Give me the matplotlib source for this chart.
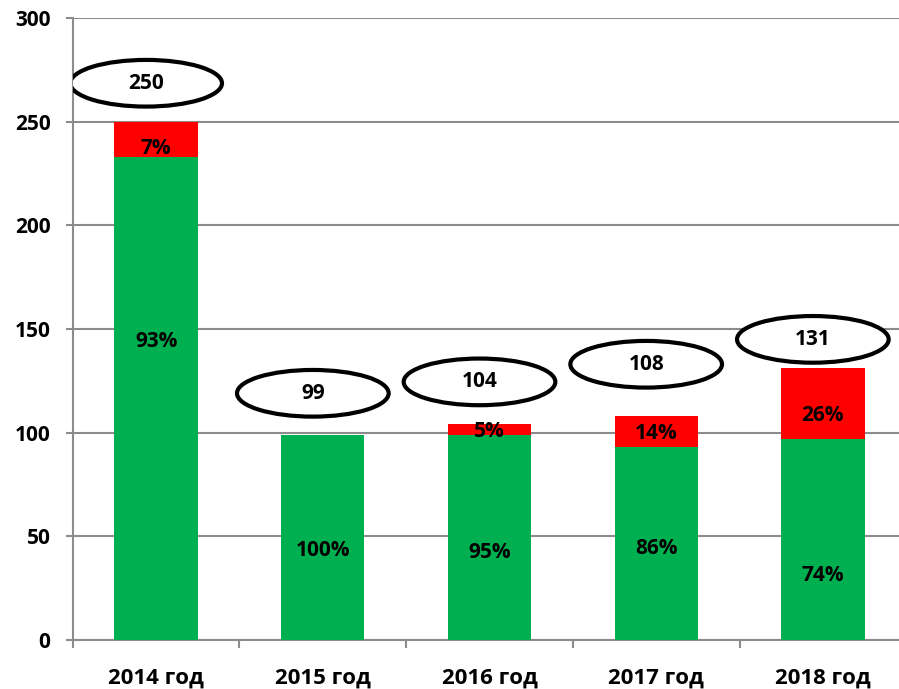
import matplotlib
matplotlib.use("Agg")
import matplotlib.pyplot as plt
from matplotlib.patches import Ellipse
import numpy as np

years = ["2014 год", "2015 год", "2016 год", "2017 год", "2018 год"]
green_vals = [233, 99, 99, 93, 97]
red_vals = [17, 0, 5, 15, 34]
totals = [250, 99, 104, 108, 131]
green_pct = ["93%", "100%", "95%", "86%", "74%"]
red_pct = ["7%", "", "5%", "14%", "26%"]

# label positions (data units)
green_label_y = [144, 43, 42, 44, 31]
red_label_y = [237, 0, 100.5, 99.5, 108.5]
ellipse_y = [268.5, 119, 124.5, 133, 145]

GREEN = "#00B050"
RED = "#FF0000"
GRID = "#8c8c8c"

plt.rcParams["font.family"] = ["Open Sans", "DejaVu Sans"]
plt.rcParams["font.weight"] = "bold"

fig = plt.figure(figsize=(8.99, 6.89), dpi=100)
# right edge runs past the picture, as in the original
ax = fig.add_axes([0.081, 0.071, 0.927, 0.903])

x = np.arange(len(years))
ax.bar(x, green_vals, width=0.5, color=GREEN, zorder=3)
ax.bar(x, red_vals, width=0.5, bottom=green_vals, color=RED, zorder=3)

for i in range(len(years)):
    ax.text(x[i], green_label_y[i], green_pct[i], ha="center", va="center",
            fontsize=15, fontweight="bold", zorder=5)
    if red_pct[i]:
        ax.text(x[i], red_label_y[i], red_pct[i], ha="center", va="center",
                fontsize=15, fontweight="bold", zorder=5)
    cx = x[i] - 0.06
    e = Ellipse((cx, ellipse_y[i]), 0.91, 22.5, facecolor="white",
                edgecolor="black", linewidth=3, zorder=4)
    ax.add_patch(e)
    ax.text(cx, ellipse_y[i], str(totals[i]), ha="center", va="center",
            fontsize=15, fontweight="bold", zorder=5)

ax.set_xlim(-0.5, len(years) - 0.5)
ax.set_ylim(0, 300)
ax.set_yticks(range(0, 301, 50))
ax.yaxis.grid(True, color=GRID, linewidth=1.5, zorder=0)
ax.set_axisbelow(True)

ax.set_xticks(x)
ax.set_xticklabels(years, fontsize=16, fontweight="bold")
ax.set_xticks(np.arange(-0.5, len(years), 1.0), minor=True)
ax.tick_params(axis="x", which="major", length=0, pad=20)
ax.tick_params(axis="x", which="minor", length=6, width=1.5, color=GRID)
ax.tick_params(axis="y", length=5, width=1.5, color=GRID, pad=11, labelsize=15)
for lbl in ax.get_yticklabels():
    lbl.set_fontweight("bold")

for side in ["top", "right"]:
    ax.spines[side].set_visible(False)
for side in ["left", "bottom"]:
    ax.spines[side].set_color(GRID)
    ax.spines[side].set_linewidth(1.5)

fig.savefig("out.png", dpi=100)
